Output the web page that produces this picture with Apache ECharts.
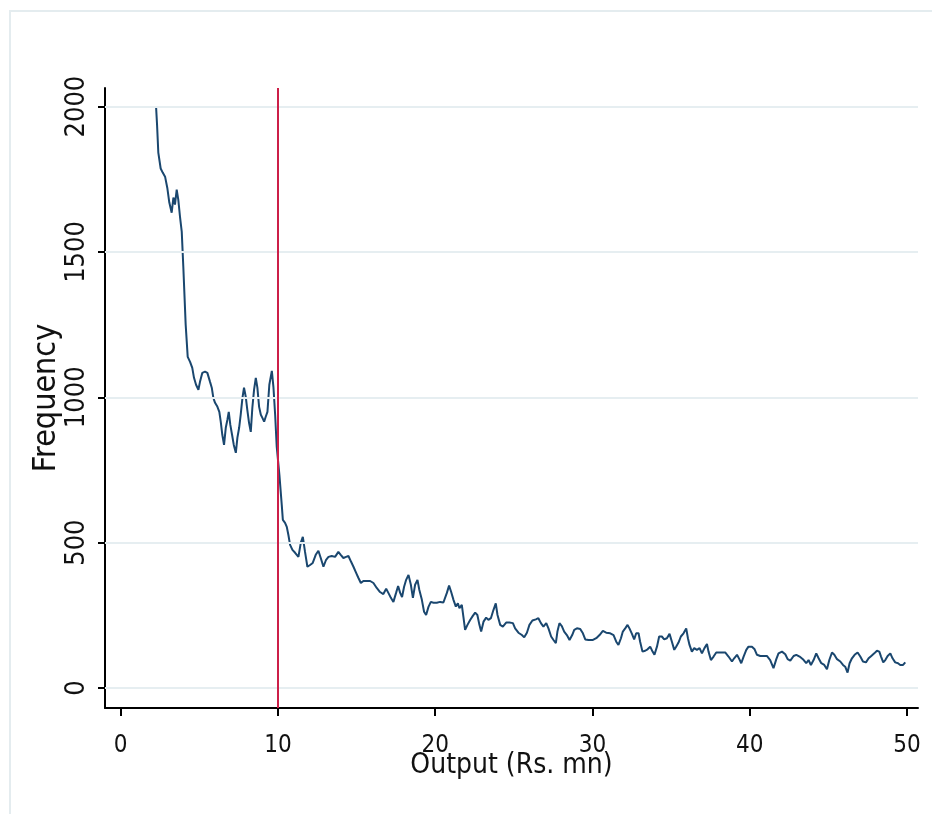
<!DOCTYPE html>
<html>
<head>
<meta charset="utf-8">
<script src="https://cdn.jsdelivr.net/npm/echarts@6/dist/echarts.min.js"></script>
<style>
  html, body { margin: 0; padding: 0; background: #fff; }
  #chart { width: 932px; height: 814px; }
</style>
</head>
<body>
<div id="chart"></div>
<script>
// frequency polygon of firm output
var outputX = [
  2.25, 2.31, 2.39, 2.54, 2.67, 2.82, 2.96, 3.09, 3.24, 3.35, 3.45, 3.56, 3.66, 3.77, 3.88, 3.98,
  4.13, 4.26, 4.41, 4.55, 4.66, 4.79, 4.94, 5.04, 5.19, 5.36, 5.51, 5.68, 5.79, 5.89, 6.00, 6.15,
  6.27, 6.36, 6.46, 6.57, 6.68, 6.78, 6.87, 6.97, 7.08, 7.19, 7.32, 7.42, 7.53, 7.63, 7.74, 7.84,
  7.95, 8.05, 8.16, 8.27, 8.37, 8.48, 8.59, 8.69, 8.80, 8.91, 9.01, 9.12, 9.22, 9.33, 9.45, 9.61,
  9.71, 9.82, 9.92, 10.09, 10.24, 10.31, 10.45, 10.56, 10.66, 10.77, 10.92, 11.09, 11.30, 11.45,
  11.58, 11.72, 11.87, 12.04, 12.21, 12.40, 12.57, 12.72, 12.89, 13.06, 13.21, 13.42, 13.63, 13.84,
  13.99, 14.16, 14.33, 14.48, 14.65, 14.80, 14.97, 15.11, 15.27, 15.43, 15.65, 15.86, 16.07, 16.28,
  16.49, 16.70, 16.88, 17.02, 17.18, 17.34, 17.51, 17.64, 17.77, 17.89, 18.02, 18.15, 18.30, 18.45,
  18.58, 18.72, 18.87, 18.99, 19.15, 19.29, 19.42, 19.57, 19.72, 19.89, 20.10, 20.31, 20.52, 20.74,
  20.88, 21.01, 21.16, 21.31, 21.44, 21.54, 21.69, 21.79, 21.90, 22.05, 22.22, 22.39, 22.54, 22.68,
  22.81, 22.92, 23.07, 23.24, 23.38, 23.54, 23.70, 23.85, 23.96, 24.13, 24.30, 24.51, 24.72, 24.94,
  25.08, 25.29, 25.51, 25.66, 25.83, 25.99, 26.18, 26.40, 26.56, 26.72, 26.88, 27.06, 27.20, 27.37,
  27.52, 27.67, 27.77, 27.90, 28.05, 28.20, 28.37, 28.54, 28.71, 28.84, 29.01, 29.22, 29.39, 29.54,
  29.75, 30.03, 30.24, 30.45, 30.66, 30.87, 31.13, 31.34, 31.51, 31.65, 31.81, 31.93, 32.08, 32.23,
  32.35, 32.51, 32.65, 32.78, 32.93, 33.03, 33.18, 33.35, 33.50, 33.67, 33.82, 33.94, 34.10, 34.24,
  34.41, 34.56, 34.73, 34.90, 35.05, 35.20, 35.32, 35.47, 35.62, 35.79, 35.96, 36.07, 36.17, 36.32,
  36.47, 36.64, 36.81, 36.96, 37.12, 37.28, 37.38, 37.53, 37.70, 37.87, 38.12, 38.44, 38.65, 38.87,
  39.01, 39.19, 39.33, 39.46, 39.61, 39.78, 39.92, 40.14, 40.31, 40.46, 40.67, 41.09, 41.30, 41.51,
  41.69, 41.83, 42.05, 42.26, 42.41, 42.58, 42.79, 42.96, 43.17, 43.38, 43.59, 43.74, 43.89, 44.06,
  44.23, 44.38, 44.55, 44.74, 44.91, 45.06, 45.23, 45.38, 45.55, 45.76, 45.93, 46.07, 46.22, 46.35,
  46.50, 46.67, 46.86, 47.03, 47.20, 47.39, 47.56, 47.73, 47.92, 48.09, 48.24, 48.35, 48.49, 48.62,
  48.77, 48.94, 49.08, 49.25, 49.43, 49.57, 49.75, 49.89
];
var frequencyY = [
  1997, 1938, 1842, 1787, 1773, 1759, 1721, 1670, 1635, 1687, 1663, 1714, 1680, 1621, 1570, 1449,
  1250, 1139, 1122, 1101, 1067, 1043, 1026, 1053, 1084, 1088, 1084, 1053, 1033, 998, 981, 967,
  950, 916, 871, 836, 895, 922, 950, 905, 871, 836, 809, 861, 895, 940, 998, 1033,
  1002, 957, 912, 881, 964, 1026, 1067, 1033, 967, 940, 929, 916, 933, 950, 1043, 1091,
  1036, 940, 830, 733, 630, 578, 568, 554, 527, 492, 475, 465, 451, 499,
  520, 468, 417, 423, 430, 458, 472, 447, 417, 441, 451, 454, 451, 468,
  458, 447, 451, 454, 434, 417, 396, 379, 361, 368, 368, 368, 361, 344,
  330, 323, 341, 327, 310, 296, 327, 351, 327, 313, 348, 372, 389, 355,
  310, 355, 372, 337, 303, 262, 251, 279, 296, 293, 293, 296, 294, 327,
  352, 331, 303, 280, 291, 274, 286, 245, 200, 217, 234, 248, 259, 251,
  217, 194, 228, 242, 234, 240, 268, 291, 251, 217, 211, 225, 225, 223,
  205, 190, 182, 174, 190, 217, 232, 236, 240, 223, 211, 223, 205, 177,
  165, 154, 194, 223, 213, 194, 182, 165, 182, 200, 205, 203, 188, 167,
  165, 165, 171, 182, 196, 190, 188, 182, 159, 148, 171, 194, 205, 217,
  205, 186, 167, 188, 188, 159, 125, 128, 133, 142, 125, 114, 142, 177,
  177, 167, 171, 186, 159, 131, 142, 156, 177, 188, 205, 171, 148, 125,
  137, 131, 137, 119, 137, 151, 125, 96, 108, 122, 122, 122, 108, 91,
  102, 114, 100, 85, 108, 131, 142, 142, 133, 114, 110, 110, 96, 68,
  99, 119, 125, 116, 99, 94, 110, 114, 108, 99, 85, 96, 79, 96,
  119, 102, 85, 79, 64, 96, 122, 114, 99, 91, 79, 73, 53, 85,
  102, 114, 122, 108, 91, 88, 102, 110, 119, 128, 125, 108, 88, 96,
  110, 119, 102, 88, 85, 79, 79, 88
];
var xTicks = [0, 10, 20, 30, 40, 50];
var yTicks = [0, 500, 1000, 1500, 2000];
var cutoff = 10;

var FONT = "'Liberation Sans Narrow', 'DejaVu Sans Condensed', 'Liberation Sans', sans-serif";

var points = outputX.map(function (x, i) { return [x, frequencyY[i]]; });

var chart = echarts.init(document.getElementById('chart'), null, { renderer: 'canvas' });

chart.setOption({
  backgroundColor: '#ffffff',
  animation: false,
  graphic: [{
    type: 'polyline',
    shape: { points: [[10, 814], [10, 11], [932, 11]] },
    style: { stroke: '#e4ecef', lineWidth: 2, fill: null },
    silent: true
  }],
  grid: { left: 105, right: 14, top: 88, bottom: 106 },
  xAxis: {
    type: 'value',
    min: -1,
    max: 50.7,
    name: 'Output (Rs. mn)',
    nameLocation: 'middle',
    nameGap: 44,
    nameMoveOverlap: false,
    nameTextStyle: { fontFamily: FONT, fontSize: 28, color: '#111' },
    axisLine: { show: true, onZero: false, lineStyle: { color: '#000', width: 2 } },
    axisTick: { show: true, customValues: xTicks, length: 8, lineStyle: { color: '#000', width: 2 } },
    axisLabel: { customValues: xTicks, margin: 26, fontFamily: FONT, fontSize: 24, color: '#111' },
    splitLine: { show: false }
  },
  yAxis: {
    type: 'value',
    min: -69,
    max: 2064,
    name: 'Frequency',
    nameLocation: 'middle',
    nameRotate: 90,
    nameGap: 42,
    nameMoveOverlap: false,
    nameTextStyle: { fontFamily: FONT, fontSize: 32, color: '#111' },
    axisLine: { show: true, onZero: false, lineStyle: { color: '#000', width: 2 } },
    axisTick: { show: true, customValues: yTicks, length: 7, lineStyle: { color: '#000', width: 2 } },
    axisLabel: {
      customValues: yTicks, rotate: 90, margin: 15, fontFamily: FONT, fontSize: 27, color: '#111',
      formatter: function (v) { return String(v); }
    },
    splitLine: { show: false }
  },
  series: [
    {
      type: 'line',
      data: [],
      silent: true,
      z: 1,
      markLine: {
        silent: true,
        symbol: 'none',
        label: { show: false },
        lineStyle: { color: '#e6eef1', width: 2, type: 'solid' },
        data: yTicks.map(function (v) { return { yAxis: v }; })
      }
    },
    {
      type: 'line',
      data: points,
      showSymbol: false,
      z: 3,
      lineStyle: { color: '#1a476f', width: 2 },
      markLine: {
        silent: true,
        symbol: 'none',
        label: { show: false },
        lineStyle: { color: '#cc1f48', width: 2, type: 'solid' },
        data: [{ xAxis: cutoff }]
      }
    }
  ]
});
</script>
</body>
</html>
